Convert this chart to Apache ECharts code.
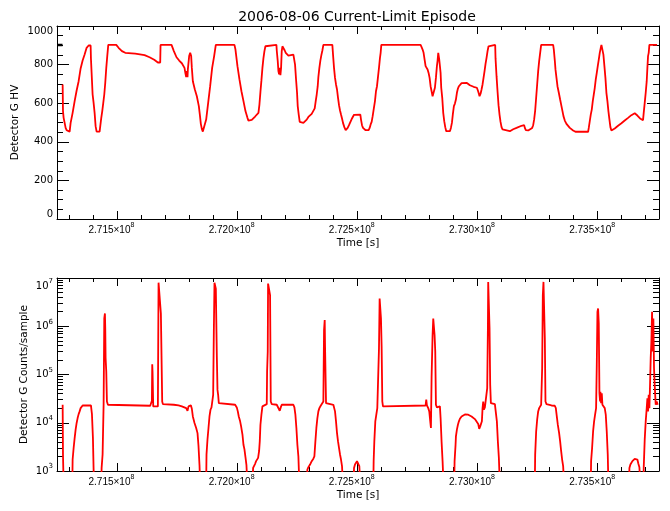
<!DOCTYPE html>
<html><head><meta charset="utf-8">
<script src="https://cdn.jsdelivr.net/npm/echarts@6/dist/echarts.min.js"></script>
<style>html,body{margin:0;padding:0;background:#fff}#c{width:670px;height:511px}</style>
</head><body><div id="c"></div>
<script>
// Time values in kiloseconds (mission elapsed time), converted to seconds below
const hvTimeKs = [271274.1,271275.5,271278.2,271282.4,271286.5,271290.7,271294.9,271303.2,271307.3,271315.6,271324.0,271332.3,271340.6,271348.9,271357.2,271365.5,271373.8,271382.1,271390.5,271391.8,271398.8,271402.9,271407.1,271411.2,271415.4,271427.9,271430.6,271434.8,271438.9,271443.1,271447.3,271451.4,271455.6,271459.7,271463.9,271497.1,271506.8,271520.7,271534.5,271576.1,271614.9,271635.7,271655.1,271670.3,271680.0,271681.4,271727.1,271736.8,271747.9,271758.9,271770.0,271781.1,271785.3,271788.1,271790.8,271793.6,271795.0,271800.5,271804.7,271808.8,271811.6,271815.8,271824.1,271832.4,271840.7,271844.9,271849.0,271853.2,271857.3,271862.9,271871.2,271879.5,271887.8,271896.1,271904.4,271911.3,271988.9,271993.1,272001.4,272009.7,272018.0,272026.4,272034.7,272043.0,272047.1,272061.0,272074.8,272088.7,
272092.8,272097.0,272101.1,272105.3,272109.4,272113.6,272117.7,272121.9,272163.5,272164.9,272169.0,272171.8,272174.6,272177.3,272180.1,272182.9,272185.6,272188.4,272194.0,272198.1,272202.3,272207.8,272213.3,272234.1,272238.3,272241.0,272245.2,272249.3,272252.1,272256.3,272260.4,272264.6,272275.7,272282.6,272289.5,272296.5,272303.4,272310.3,272318.6,272322.8,272327.0,272331.1,272335.3,272338.0,272342.2,272346.3,272350.5,272354.7,272358.8,272396.2,272399.0,272403.1,272407.3,272411.4,272415.6,272419.8,272423.9,272428.1,272432.2,272436.4,272440.5,272446.1,272451.6,272455.8,272459.9,272465.5,272469.6,272473.8,272477.9,272482.1,272486.3,272494.6,272512.6,272515.4,272519.5,272523.7,272527.8,272534.8,272547.2,272551.4,272555.5,272559.7,272563.9,272568.0,272573.5,272577.7,272581.9,272586.0,272590.2,272594.3,272597.1,272599.9,272763.3,272767.5,272771.7,272775.8,272780.0,272784.1,272788.3,272792.4,272796.6,272800.8,272804.9,272809.1,272813.2,272818.8,272822.9,272827.1,272831.2,272834.0,272836.8,272839.5,272840.9,272843.7,272846.5,272849.2,272853.4,272857.5,272861.7,272865.9,272870.0,272885.2,272889.4,272893.6,272897.7,272901.9,
272906.1,272910.3,272914.4,272918.6,272922.7,272928.3,272933.8,272939.4,272956.0,272961.5,272968.4,272975.4,272983.7,272992.0,272997.5,273001.7,273005.8,273008.6,273012.8,273016.9,273021.1,273025.2,273029.4,273033.5,273037.7,273041.9,273046.0,273048.8,273073.7,273075.1,273079.3,273083.4,273087.6,273091.7,273095.9,273100.1,273104.2,273111.1,273134.7,273148.6,273162.4,273183.2,273194.2,273197.0,273201.2,273206.7,273210.9,273217.8,273227.5,273231.7,273235.8,273240.0,273244.1,273248.3,273252.5,273256.6,273260.8,273264.9,273314.8,273317.6,273321.7,273324.5,273328.7,273332.8,273338.4,273343.9,273349.4,273353.6,273357.7,273363.3,273370.2,273377.1,273384.1,273391.0,273397.9,273407.6,273460.3,273463.0,273467.2,273471.3,273475.5,273479.7,273483.8,273488.0,273492.1,273496.3,273500.4,273504.6,273508.7,273512.9,273515.7,273521.2,273523.9,273528.1,273532.3,273536.4,273540.6,273544.7,273548.9,273553.0,273557.2,273562.8,273571.1,273584.9,273598.8,273612.6,273626.5,273640.3,273654.2,273661.1,273665.3,273670.8,273676.3,273681.9,273688.8,273691.6,273695.8,273699.9,273704.1,273706.9,273709.6,273712.4,273715.2,273747.1];
const hvValue = [697,559,524,498,472,460,453,453,498,550,611,666,714,780,821,852,887,899,899,832,645,602,550,481,453,453,481,524,559,602,645,706,783,844,902,902,887,870,861,857,849,838,825,811,811,902,902,870,838,821,807,783,752,735,766,735,775,844,861,844,783,714,671,636,585,541,493,467,453,453,515,602,688,783,844,902,902,878,792,723,662,611,559,524,510,514,531,550,
593,659,718,783,832,870,895,902,902,873,818,766,749,783,745,783,870,895,890,873,861,852,847,852,849,800,723,654,585,541,503,493,498,503,515,529,538,545,550,573,611,645,688,735,783,821,849,873,902,902,852,783,731,697,671,628,590,562,541,521,498,476,460,464,472,486,498,510,521,531,540,541,541,515,486,472,467,460,460,472,490,503,533,567,611,662,688,735,783,835,861,902,902,890,878,861,826,792,783,775,757,731,688,662,636,636,680,731,792,821,861,861,826,792,757,680,628,550,507,476,455,455,472,498,545,585,
598,619,654,676,688,697,704,705,705,700,693,688,685,683,680,666,649,636,649,671,697,731,766,804,835,870,895,902,902,832,740,662,590,541,503,476,464,455,455,465,472,483,486,472,460,452,459,469,472,486,516,562,628,697,766,818,861,902,902,878,821,775,731,688,654,619,585,559,533,510,493,483,472,464,459,452,452,472,507,541,567,611,645,680,723,757,792,826,861,887,902,902,852,792,731,654,611,559,516,476,459,455,469,483,496,510,524,538,548,547,536,528,521,516,512,550,602,654,714,783,844,861,902,902];

const hvEarlyTimeKs = [271251.0, 271273.5];
const hvEarlyValue = [902, 902];

const cntTimeKs = [271274.1,271275.5,271278.2,271314.3,271315.6,271319.8,271324.0,271328.1,271332.3,271336.4,271340.6,271344.7,271348.9,271353.0,271357.2,271391.8,271396.0,271400.1,271404.3,271434.8,271436.2,271440.3,271444.5,271447.3,271450.0,271451.4,271452.8,271455.6,271458.3,271462.5,271638.4,271642.6,271645.4,271646.8,271648.1,271650.9,271670.3,271673.1,271681.4,271682.8,271686.9,271688.3,271691.1,271736.8,271756.2,271770.1,271778.4,271788.1,271793.6,271797.8,271801.9,271807.5,271811.6,271815.8,271822.7,271829.6,271835.2,271839.3,271843.5,271846.2,271871.2,271872.6,271876.7,271880.9,271885.0,271889.2,271893.4,271897.5,271900.3,271903.1,271905.8,271908.6,271911.4,271915.5,271918.3,271921.0,271923.8,271929.4,271991.7,271998.6,272002.8,272006.9,272012.5,272016.6,272022.2,272026.4,272030.5,272034.7,272038.8,272043.0,272063.8,272066.5,272070.7,272074.8,272079.0,272083.1,272087.3,272091.5,272094.2,
272097.0,272101.1,272105.3,272109.4,272123.3,272124.7,272127.4,272128.8,272135.8,272137.1,272139.9,272144.1,272164.9,272169.0,272173.2,272177.3,272181.5,272185.6,272234.1,272238.3,272242.4,272246.6,272250.7,272254.9,272259.1,272290.9,272292.3,272296.5,272303.4,272310.3,272317.2,272321.4,272325.6,272329.7,272333.9,272338.0,272342.2,272347.7,272354.7,272358.8,272361.6,272364.4,272365.7,272369.9,272375.4,272400.4,272403.1,272407.3,272411.4,272415.6,272419.8,272423.9,272428.1,272432.2,272436.4,272440.5,272484.9,272486.3,272490.4,272494.6,272498.7,272504.3,272508.4,272512.6,272566.6,272568.0,272570.8,272574.9,272579.1,272583.2,272587.4,272590.2,272592.9,272595.7,272598.5,272601.2,272604.0,272606.8,272615.1,272784.1,272786.9,272789.7,272795.2,272799.4,272803.5,272806.3,272809.1,272813.2,272816.0,272818.8,272821.5,272824.3,272827.1,272831.2,272836.8,272843.7,272846.5,272850.6,272854.8,272859.0,272903.3,272904.7,272908.8,
272910.3,272914.4,272918.6,272922.7,272926.9,272933.8,272940.7,272947.7,272954.6,272961.5,272968.4,272975.4,272982.3,272989.2,272996.1,273003.1,273007.2,273011.4,273015.5,273018.3,273021.1,273023.9,273026.6,273030.8,273034.9,273040.5,273043.3,273044.6,273048.8,273050.2,273052.9,273055.7,273058.5,273072.4,273076.5,273080.7,273084.8,273089.0,273093.1,273238.6,273240.0,273244.1,273248.3,273252.5,273256.6,273260.8,273264.9,273269.1,273271.8,273274.6,273278.8,273280.2,273282.9,273287.1,273307.9,273321.7,273325.9,273330.0,273334.2,273339.7,273343.9,273348.0,273352.2,273356.4,273360.5,273471.3,273472.7,273476.9,273481.0,273485.2,273489.3,273493.5,273496.3,273499.1,273501.8,273504.6,273507.4,273510.1,273511.5,273514.3,273517.1,273519.8,273525.4,273529.5,273533.7,273537.8,273542.0,273544.8,273630.7,273632.1,273636.2,273640.4,273644.5,273648.7,273654.2,273661.1,273665.3,273669.4,273673.6,273677.8,273690.2,273691.6,273695.8,273699.9,273704.1,273706.9,273709.6,273712.4,273715.2,273717.9,273720.7,273723.5,273726.3,273729.0,273731.8,273734.5,273737.3,273741.5,273745.6,273749.8];
const cntValue = [23600,2200,500,500,1730,3000,4800,7200,9900,12500,15100,17200,20100,21800,22800,23000,15100,4800,500,500,1160,2200,23600,1450000,1840000,900000,220000,115000,27600,23600,22500,23600,28500,163000,115000,21800,21800,8000000,8000000,1840000,1840000,27600,24300,23600,22800,21800,20800,20100,17700,21800,23000,23000,19500,13500,9900,7800,6100,3300,1320,500,500,2200,4500,7800,13500,18600,20800,21800,38000,770000,8000000,8300000,6000000,250000,48000,38000,25500,23600,23600,20800,17200,13500,10700,8400,5700,3500,2800,1930,1320,500,500,1160,1260,1410,1600,1730,1870,2600,4100,
9100,14700,21800,23600,24300,115000,300000,7650000,8300000,4400000,27600,24300,23600,21800,19500,17700,20800,23600,23600,20800,14700,7800,3500,2000,500,500,1070,1200,1360,1600,1800,2000,4100,7800,12500,17200,20100,22500,23600,27600,830000,1340000,410000,25500,23600,23600,21800,17200,10700,6100,4100,3000,2200,1730,1260,500,500,1160,1360,1470,1600,1470,1260,500,500,1600,4100,10700,14700,20100,21800,350000,3750000,3870000,1450000,380000,27600,21800,22800,22800,30000,22800,20100,17200,10700,7800,91000,660000,1450000,1500000,660000,300000,23600,20800,22800,21800,12500,4100,1600,500,500,1600,3500,
5200,7200,9100,10700,12100,13500,14400,14900,15100,14700,14200,13500,12500,11900,11000,9400,7500,8400,9100,10700,20100,27600,18600,20800,21800,52000,900000,8300000,7650000,900000,61000,25500,24300,24300,23600,10700,4100,1870,500,500,2200,6600,11600,17200,20100,21800,23600,135000,4400000,8300000,7650000,560000,27600,24300,22800,22500,20100,13500,9100,6100,4100,2600,1730,1260,500,500,1600,3000,6600,10700,14700,20100,158000,1990000,2330000,1140000,41000,27600,44000,25500,41000,23600,22800,20100,14700,6600,2200,500,500,1160,1360,1470,1600,1700,1780,1870,1730,1410,1200,500,500,1160,4500,10700,20100,32000,17200,38000,20100,61000,220000,480000,1990000,300000,1450000,135000,61000,23600,27600,23600];

const titleText = '2006-08-06 Current-Limit Episode';
const xName = 'Time [s]';
const hvName = 'Detector G HV';
const cntName = 'Detector G Counts/sample';
const xMajor = [271500000, 272000000, 272500000, 273000000, 273500000];
const X_MIN = 271250600, X_MAX = 273755200;
const FONT = 'DejaVu Sans';
const FONT_X = 'Liberation Sans';

const xMinor = [];
for (let k = 2713; k <= 2737; k++) if (k % 5 !== 0) xMinor.push(k * 1e5);

const toPairs = (tk, v) => tk.map((t, i) => [Math.round(t * 1000), v[i]]);

const blk = { color: '#000', width: 1 };
const axLine = { show: true, onZero: false, lineStyle: blk };
const noLine = { show: false, onZero: false };
const tick = (vals, len) => ({ show: true, inside: true, length: len, customValues: vals, lineStyle: blk });
const nameStyle = { fontFamily: FONT, fontSize: 10.5, color: '#000' };

function xAxes(grid) {
  const c = { type: 'value', gridIndex: grid, min: X_MIN, max: X_MAX, splitLine: { show: false }, axisPointer: { show: false } };
  return [
    Object.assign({}, c, { position: 'bottom', axisLine: axLine, axisTick: tick(xMajor, 8),
      axisLabel: { show: true, customValues: xMajor, margin: 3, padding: [0, 11, 0, 0],
        formatter: v => '{b|' + (v / 1e8).toFixed(3) + '×10}{s|8}',
        rich: { b: { fontFamily: FONT_X, fontSize: 10, color: '#000', lineHeight: 16 },
                s: { fontFamily: FONT_X, fontSize: 7, color: '#000', verticalAlign: 'top' } } },
      name: xName, nameLocation: 'middle', nameGap: 19, nameMoveOverlap: false, nameTextStyle: nameStyle }),
    Object.assign({}, c, { position: 'bottom', axisLine: noLine, axisTick: tick(xMinor, 4), axisLabel: { show: false } }),
    Object.assign({}, c, { position: 'top', axisLine: axLine, axisTick: tick(xMajor, 8), axisLabel: { show: false } }),
    Object.assign({}, c, { position: 'top', axisLine: noLine, axisTick: tick(xMinor, 4), axisLabel: { show: false } })
  ];
}

function yHV(pos) {
  return { type: 'value', gridIndex: 0, position: pos, min: 0, max: 1000, interval: 200,
    axisLine: axLine, axisTick: { show: true, inside: true, length: 12, lineStyle: blk },
    minorTick: { show: true, splitNumber: 4, length: 6, lineStyle: blk },
    splitLine: { show: false }, minorSplitLine: { show: false },
    axisLabel: pos === 'left' ? { show: true, margin: 4, fontFamily: FONT, fontSize: 10, color: '#000',
      formatter: v => String(v),
      verticalAlignMinLabel: 'bottom', verticalAlignMaxLabel: 'top' } : { show: false },
    name: pos === 'left' ? hvName : '', nameLocation: 'middle', nameGap: 36, nameMoveOverlap: false,
    nameTextStyle: nameStyle };
}
function yCnt(pos) {
  return { type: 'log', logBase: 10, gridIndex: 1, position: pos, min: 1000, max: 10000000,
    axisLine: axLine, axisTick: { show: true, inside: true, length: 12, lineStyle: blk },
    minorTick: { show: true, splitNumber: 9, length: 6, lineStyle: blk },
    splitLine: { show: false }, minorSplitLine: { show: false },
    axisLabel: pos === 'left' ? { show: true, margin: 4,
      formatter: v => '{b|10}{s|' + Math.round(Math.log10(v)) + '}',
      rich: { b: { fontFamily: FONT, fontSize: 10, color: '#000', lineHeight: 16 },
              s: { fontFamily: FONT, fontSize: 7, color: '#000', verticalAlign: 'top' } },
      verticalAlignMinLabel: 'bottom', verticalAlignMaxLabel: 'top' } : { show: false },
    name: pos === 'left' ? cntName : '', nameLocation: 'middle', nameGap: 27, nameMoveOverlap: false,
    nameTextStyle: nameStyle };
}

const chart = echarts.init(document.getElementById('c'), null, { renderer: 'canvas' });
chart.setOption({
  animation: false,
  backgroundColor: '#fff',
  graphic: [{ type: 'text', x: 357, y: 17,
    style: { text: titleText, fontFamily: FONT, fontSize: 14, fill: '#000',
      align: 'center', verticalAlign: 'middle', textAlign: 'center', textVerticalAlign: 'middle' } }],
  grid: [
    { left: 57, top: 26, width: 602, height: 193 },
    { left: 57, top: 278, width: 602, height: 193 }
  ],
  xAxis: xAxes(0).concat(xAxes(1)),
  yAxis: [yHV('left'), yHV('right'), yCnt('left'), yCnt('right')],
  series: [
    { type: 'line', xAxisIndex: 0, yAxisIndex: 0, data: toPairs(hvEarlyTimeKs, hvEarlyValue),
      showSymbol: false, lineStyle: { color: '#000', width: 2.5 }, itemStyle: { color: '#000' } },
    { type: 'line', xAxisIndex: 0, yAxisIndex: 0, data: toPairs(hvTimeKs, hvValue),
      showSymbol: false, lineStyle: { color: '#ff0000', width: 1.8 }, itemStyle: { color: '#ff0000' } },
    { type: 'line', xAxisIndex: 4, yAxisIndex: 2, data: toPairs(cntTimeKs, cntValue),
      showSymbol: false, lineStyle: { color: '#ff0000', width: 1.8 }, itemStyle: { color: '#ff0000' } }
  ]
});
</script></body></html>
